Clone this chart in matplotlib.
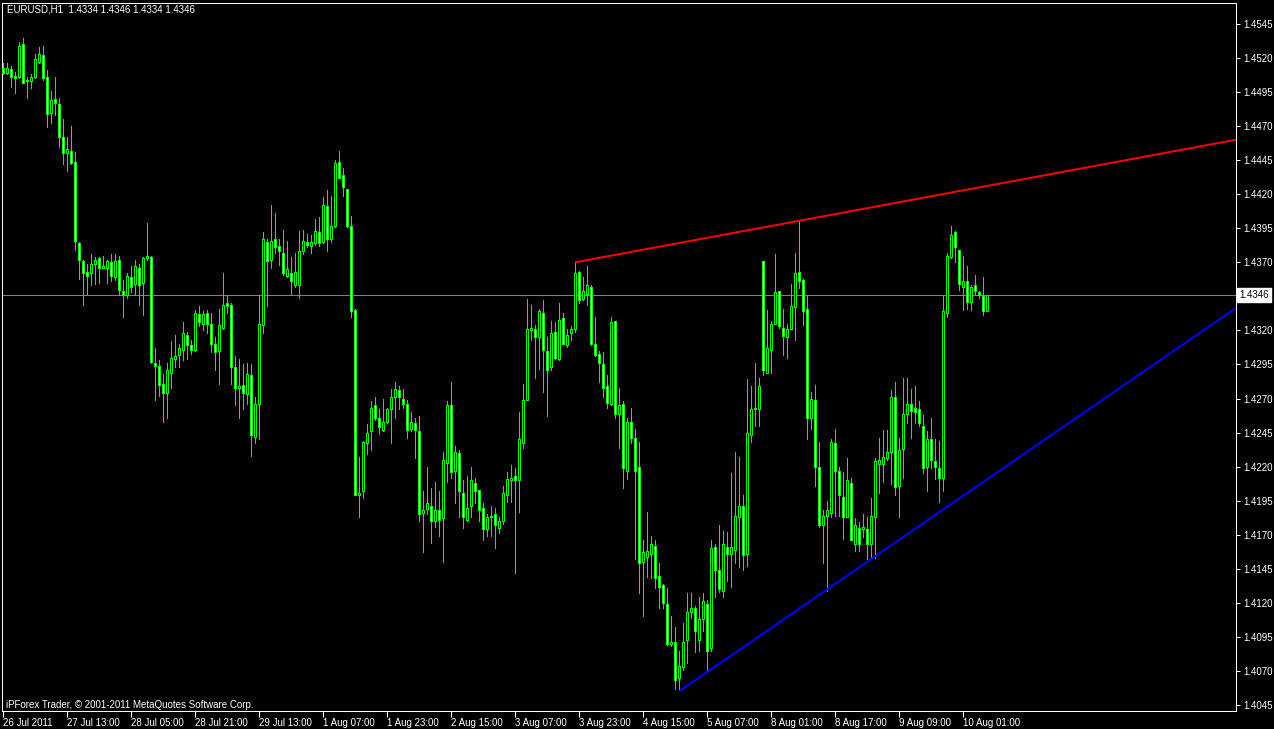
import matplotlib
matplotlib.use("Agg")
import matplotlib.pyplot as plt
from matplotlib.patches import Rectangle

# EURUSD H1 candles (bar 0 = first visible bar)
opens = [
    1.4513, 1.4509, 1.4512, 1.4507, 1.4506, 1.4530, 1.4503, 1.4503, 1.4506, 1.4517,
    1.4522, 1.4506, 1.4480, 1.4490, 1.4486, 1.4462, 1.4450, 1.4452, 1.4444, 1.4384,
    1.4371, 1.4363, 1.4362, 1.4369, 1.4373, 1.4366, 1.4366, 1.4370, 1.4359, 1.4372,
    1.4349, 1.4346, 1.4359, 1.4354, 1.4366, 1.4355, 1.4373, 1.4374, 1.4296, 1.4294,
    1.4281, 1.4274, 1.4289, 1.4299, 1.4302, 1.4306, 1.4317, 1.4309, 1.4306, 1.4332,
    1.4325, 1.4333, 1.4325, 1.4310, 1.4305, 1.4322, 1.4340, 1.4339, 1.4293, 1.4278,
    1.4280, 1.4273, 1.4287, 1.4242, 1.4266, 1.4324, 1.4385, 1.4372, 1.4387, 1.4382,
    1.4377, 1.4360, 1.4362, 1.4353, 1.4353, 1.4378, 1.4385, 1.4382, 1.4384, 1.4392,
    1.4385, 1.4411, 1.4387, 1.4397, 1.4444, 1.4434, 1.4424, 1.4397, 1.4335, 1.4199,
    1.4202, 1.4237, 1.4246, 1.4265, 1.4256, 1.4247, 1.4253, 1.4262, 1.4271, 1.4276,
    1.4270, 1.4266, 1.4248, 1.4252, 1.4246, 1.4186, 1.4189, 1.4191, 1.4180, 1.4188,
    1.4182, 1.4223, 1.4265, 1.4217, 1.4230, 1.4201, 1.4181, 1.4191, 1.4208, 1.4203,
    1.4190, 1.4174, 1.4183, 1.4185, 1.4175, 1.4180, 1.4199, 1.4210, 1.4213, 1.4210,
    1.4237, 1.4269, 1.4320, 1.4321, 1.4315, 1.4333, 1.4305, 1.4293, 1.4319, 1.4299,
    1.4329, 1.4309, 1.4318, 1.4321, 1.4363, 1.4343, 1.4347, 1.4352, 1.4310, 1.4303,
    1.4295, 1.4279, 1.4266, 1.4327, 1.4259, 1.4266, 1.4217, 1.4253, 1.4241, 1.4220,
    1.4150, 1.4154, 1.4156, 1.4162, 1.4140, 1.4133, 1.4119, 1.4090, 1.4091, 1.4065,
    1.4073, 1.4093, 1.4113, 1.4116, 1.4093, 1.4108, 1.4119, 1.4087, 1.4161, 1.4144,
    1.4129, 1.4161, 1.4156, 1.4159, 1.4183, 1.4191, 1.4156, 1.4243, 1.4262, 1.4262,
    1.4371, 1.4289, 1.4306, 1.4325, 1.4349, 1.4322, 1.4315, 1.4321, 1.4337, 1.4363,
    1.4357, 1.4336, 1.4256, 1.4269, 1.4220, 1.4177, 1.4184, 1.4186, 1.4237, 1.4217,
    1.4198, 1.4183, 1.4208, 1.4163, 1.4175, 1.4174, 1.4174, 1.4163, 1.4183, 1.4222,
    1.4222, 1.4226, 1.4231, 1.4271, 1.4206, 1.4233, 1.4259, 1.4266, 1.4263, 1.4262,
    1.4250, 1.4220, 1.4240, 1.4224, 1.4219, 1.4212, 1.4333, 1.4374, 1.4392, 1.4379,
    1.4352, 1.4356, 1.4341, 1.4353, 1.4348, 1.4345, 1.4334,
]
highs = [
    1.4516, 1.4516, 1.4514, 1.4510, 1.4532, 1.4535, 1.4506, 1.4508, 1.4523, 1.4528,
    1.4529, 1.4511, 1.4496, 1.4506, 1.4491, 1.4475, 1.4462, 1.4470, 1.4451, 1.4385,
    1.4372, 1.4369, 1.4376, 1.4374, 1.4374, 1.4375, 1.4372, 1.4376, 1.4376, 1.4375,
    1.4357, 1.4362, 1.4367, 1.4372, 1.4369, 1.4374, 1.4399, 1.4375, 1.4307, 1.4298,
    1.4288, 1.4296, 1.4312, 1.4317, 1.4310, 1.4326, 1.4319, 1.4313, 1.4335, 1.4338,
    1.4334, 1.4335, 1.4333, 1.4315, 1.4336, 1.4362, 1.4345, 1.4340, 1.4301, 1.4299,
    1.4295, 1.4296, 1.4295, 1.4271, 1.4346, 1.4392, 1.4387, 1.4412, 1.4406, 1.4387,
    1.4394, 1.4386, 1.4374, 1.4377, 1.4393, 1.4394, 1.4391, 1.4390, 1.4402, 1.4403,
    1.4418, 1.4423, 1.4419, 1.4445, 1.4452, 1.4439, 1.4424, 1.4404, 1.4336, 1.4227,
    1.4239, 1.4251, 1.4268, 1.4271, 1.4262, 1.4270, 1.4263, 1.4277, 1.4282, 1.4279,
    1.4277, 1.4269, 1.4260, 1.4256, 1.4257, 1.4202, 1.4220, 1.4204, 1.4209, 1.4202,
    1.4231, 1.4268, 1.4282, 1.4235, 1.4232, 1.4210, 1.4213, 1.4220, 1.4212, 1.4203,
    1.4193, 1.4185, 1.4191, 1.4190, 1.4183, 1.4206, 1.4216, 1.4221, 1.4219, 1.4260,
    1.4281, 1.4343, 1.4339, 1.4324, 1.4336, 1.4342, 1.4315, 1.4327, 1.4326, 1.4340,
    1.4333, 1.4321, 1.4323, 1.4370, 1.4364, 1.4359, 1.4367, 1.4353, 1.4330, 1.4305,
    1.4304, 1.4287, 1.4330, 1.4327, 1.4278, 1.4268, 1.4256, 1.4263, 1.4248, 1.4238,
    1.4166, 1.4187, 1.4169, 1.4166, 1.4149, 1.4134, 1.4131, 1.4110, 1.4102, 1.4085,
    1.4105, 1.4127, 1.4127, 1.4118, 1.4124, 1.4127, 1.4122, 1.4166, 1.4163, 1.4177,
    1.4173, 1.4172, 1.4215, 1.4231, 1.4227, 1.4199, 1.4284, 1.4279, 1.4296, 1.4285,
    1.4371, 1.4335, 1.4327, 1.4376, 1.4349, 1.4336, 1.4325, 1.4354, 1.4377, 1.4401,
    1.4358, 1.4345, 1.4275, 1.4280, 1.4238, 1.4188, 1.4195, 1.4240, 1.4248, 1.4220,
    1.4216, 1.4226, 1.4212, 1.4182, 1.4179, 1.4185, 1.4183, 1.4197, 1.4226, 1.4241,
    1.4247, 1.4247, 1.4276, 1.4282, 1.4241, 1.4285, 1.4285, 1.4277, 1.4279, 1.4268,
    1.4258, 1.4246, 1.4256, 1.4240, 1.4239, 1.4345, 1.4377, 1.4397, 1.4393, 1.4379,
    1.4375, 1.4367, 1.4353, 1.4361, 1.4349, 1.4359, 1.4346,
]
lows = [
    1.4508, 1.4508, 1.4499, 1.4494, 1.4505, 1.4502, 1.4491, 1.4498, 1.4505, 1.4516,
    1.4504, 1.4469, 1.4472, 1.4478, 1.4455, 1.4442, 1.4437, 1.4442, 1.4379, 1.4358,
    1.4339, 1.4347, 1.4353, 1.4354, 1.4355, 1.4366, 1.4355, 1.4356, 1.4357, 1.4346,
    1.4330, 1.4344, 1.4348, 1.4346, 1.4339, 1.4331, 1.4372, 1.4296, 1.4269, 1.4272,
    1.4253, 1.4256, 1.4278, 1.4293, 1.4293, 1.4298, 1.4299, 1.4303, 1.4305, 1.4323,
    1.4320, 1.4318, 1.4304, 1.4291, 1.4281, 1.4321, 1.4333, 1.4281, 1.4265, 1.4256,
    1.4262, 1.4266, 1.4228, 1.4237, 1.4240, 1.4318, 1.4338, 1.4366, 1.4377, 1.4368,
    1.4361, 1.4359, 1.4346, 1.4352, 1.4344, 1.4376, 1.4381, 1.4377, 1.4383, 1.4382,
    1.4384, 1.4378, 1.4385, 1.4396, 1.4432, 1.4419, 1.4396, 1.4330, 1.4199, 1.4183,
    1.4197, 1.4229, 1.4232, 1.4254, 1.4244, 1.4246, 1.4252, 1.4237, 1.4256, 1.4262,
    1.4263, 1.4241, 1.4246, 1.4226, 1.4180, 1.4157, 1.4185, 1.4164, 1.4176, 1.4169,
    1.4150, 1.4209, 1.4212, 1.4193, 1.4183, 1.4175, 1.4180, 1.4183, 1.4193, 1.4180,
    1.4166, 1.4169, 1.4169, 1.4160, 1.4171, 1.4178, 1.4194, 1.4194, 1.4142, 1.4187,
    1.4234, 1.4269, 1.4313, 1.4285, 1.4292, 1.4275, 1.4257, 1.4291, 1.4299, 1.4298,
    1.4310, 1.4308, 1.4313, 1.4319, 1.4340, 1.4342, 1.4339, 1.4309, 1.4301, 1.4282,
    1.4271, 1.4263, 1.4265, 1.4256, 1.4234, 1.4204, 1.4211, 1.4237, 1.4152, 1.4127,
    1.4110, 1.4139, 1.4138, 1.4131, 1.4116, 1.4116, 1.4089, 1.4088, 1.4057, 1.4055,
    1.4071, 1.4076, 1.4109, 1.4084, 1.4085, 1.4099, 1.4071, 1.4085, 1.4124, 1.4128,
    1.4124, 1.4136, 1.4132, 1.4149, 1.4146, 1.4144, 1.4147, 1.4238, 1.4250, 1.4250,
    1.4287, 1.4289, 1.4289, 1.4325, 1.4322, 1.4302, 1.4300, 1.4321, 1.4313, 1.4351,
    1.4324, 1.4240, 1.4248, 1.4206, 1.4176, 1.4149, 1.4129, 1.4183, 1.4184, 1.4184,
    1.4167, 1.4183, 1.4166, 1.4158, 1.4158, 1.4168, 1.4152, 1.4153, 1.4153, 1.4201,
    1.4209, 1.4225, 1.4207, 1.4199, 1.4183, 1.4212, 1.4252, 1.4241, 1.4252, 1.4250,
    1.4215, 1.4202, 1.4219, 1.4211, 1.4194, 1.4202, 1.4330, 1.4373, 1.4370, 1.4350,
    1.4335, 1.4336, 1.4335, 1.4347, 1.4344, 1.4331, 1.4334,
]
closes = [
    1.4509, 1.4513, 1.4506, 1.4505, 1.4529, 1.4502, 1.4504, 1.4506, 1.4519, 1.4523,
    1.4505, 1.4479, 1.4489, 1.4487, 1.4462, 1.4450, 1.4453, 1.4443, 1.4386, 1.4372,
    1.4362, 1.4360, 1.4369, 1.4372, 1.4366, 1.4367, 1.4371, 1.4360, 1.4371, 1.4350,
    1.4346, 1.4360, 1.4352, 1.4367, 1.4353, 1.4373, 1.4375, 1.4297, 1.4294, 1.4280,
    1.4274, 1.4291, 1.4300, 1.4301, 1.4307, 1.4318, 1.4309, 1.4306, 1.4333, 1.4326,
    1.4332, 1.4325, 1.4310, 1.4304, 1.4324, 1.4339, 1.4338, 1.4293, 1.4278, 1.4279,
    1.4274, 1.4288, 1.4243, 1.4266, 1.4325, 1.4387, 1.4371, 1.4386, 1.4381, 1.4378,
    1.4362, 1.4365, 1.4356, 1.4363, 1.4378, 1.4386, 1.4383, 1.4385, 1.4393, 1.4384,
    1.4412, 1.4387, 1.4397, 1.4443, 1.4432, 1.4425, 1.4397, 1.4334, 1.4199, 1.4201,
    1.4238, 1.4245, 1.4263, 1.4256, 1.4249, 1.4253, 1.4262, 1.4271, 1.4277, 1.4271,
    1.4266, 1.4247, 1.4253, 1.4247, 1.4185, 1.4188, 1.4193, 1.4180, 1.4188, 1.4181,
    1.4225, 1.4265, 1.4216, 1.4231, 1.4202, 1.4183, 1.4190, 1.4210, 1.4202, 1.4188,
    1.4174, 1.4183, 1.4184, 1.4177, 1.4180, 1.4201, 1.4211, 1.4212, 1.4210, 1.4240,
    1.4269, 1.4321, 1.4322, 1.4315, 1.4334, 1.4306, 1.4291, 1.4318, 1.4300, 1.4328,
    1.4310, 1.4317, 1.4321, 1.4362, 1.4342, 1.4349, 1.4353, 1.4310, 1.4302, 1.4296,
    1.4278, 1.4267, 1.4326, 1.4259, 1.4265, 1.4219, 1.4253, 1.4241, 1.4217, 1.4149,
    1.4157, 1.4158, 1.4163, 1.4138, 1.4132, 1.4120, 1.4090, 1.4091, 1.4063, 1.4074,
    1.4091, 1.4113, 1.4116, 1.4099, 1.4108, 1.4121, 1.4085, 1.4160, 1.4144, 1.4130,
    1.4163, 1.4156, 1.4161, 1.4184, 1.4191, 1.4155, 1.4245, 1.4262, 1.4263, 1.4279,
    1.4291, 1.4307, 1.4325, 1.4348, 1.4323, 1.4316, 1.4321, 1.4338, 1.4362, 1.4356,
    1.4334, 1.4256, 1.4270, 1.4220, 1.4177, 1.4184, 1.4188, 1.4238, 1.4217, 1.4199,
    1.4183, 1.4210, 1.4166, 1.4177, 1.4163, 1.4176, 1.4163, 1.4184, 1.4224, 1.4225,
    1.4227, 1.4231, 1.4271, 1.4205, 1.4232, 1.4259, 1.4266, 1.4261, 1.4260, 1.4252,
    1.4219, 1.4240, 1.4225, 1.4220, 1.4212, 1.4334, 1.4375, 1.4390, 1.4381, 1.4354,
    1.4356, 1.4341, 1.4352, 1.4349, 1.4346, 1.4334, 1.4346,
]

# trend lines (bar index, price) as drawn on the chart
red_x = [143, 308.25]
red_y = [1.4370, 1.4460]
blue_x = [169, 308.25]
blue_y = [1.4055, 1.43365]
last_price = 1.4346

price_ticks = [1.4545, 1.4520, 1.4495, 1.4470, 1.4445, 1.4420, 1.4395, 1.4370,
               1.4320, 1.4295, 1.4270, 1.4245, 1.4220, 1.4195, 1.4170, 1.4145,
               1.4120, 1.4095, 1.4070, 1.4045]
date_ticks = [0, 16, 32, 48, 64, 80, 96, 112, 128, 144, 160, 176, 192, 208, 224, 240]
date_labels = ["26 Jul 2011", "27 Jul 13:00", "28 Jul 05:00", "28 Jul 21:00",
               "29 Jul 13:00", "1 Aug 07:00", "1 Aug 23:00", "2 Aug 15:00",
               "3 Aug 07:00", "3 Aug 23:00", "4 Aug 15:00", "5 Aug 07:00",
               "8 Aug 01:00", "8 Aug 17:00", "9 Aug 09:00", "10 Aug 01:00"]

plt.rcParams["font.family"] = ["Liberation Sans", "DejaVu Sans"]

W, H = 1274, 729
px = 0.72  # one pixel in points at 100 dpi
lime = "#00ff00"

fig = plt.figure(figsize=(W / 100, H / 100), dpi=100, facecolor="black")
ax = fig.add_axes([2 / W, 18 / H, 1234 / W, 708 / H])
ax.set_facecolor("black")

n = len(opens)
bars = list(range(n))

# wicks first, bodies on top
ax.vlines(bars, lows, highs, colors=lime, linewidth=px, zorder=3, antialiased=False)
for i in bars:
    lo = min(opens[i], closes[i])
    hi = max(opens[i], closes[i])
    fill = "black" if closes[i] > opens[i] else "white"
    ax.add_patch(Rectangle((i - 0.25, lo), 0.5, hi - lo, facecolor=fill,
                           edgecolor=lime, linewidth=px, zorder=4, antialiased=False))

ax.axhline(last_price, color="#808080", linewidth=px, zorder=1)
ax.plot(red_x, red_y, color="#ff0000", linewidth=2 * px, zorder=5, solid_capstyle="butt")
ax.plot(blue_x, blue_y, color="#0000ff", linewidth=2 * px, zorder=5, solid_capstyle="butt")

ax.set_xlim(-0.25, 308.25)
ax.set_ylim(1.40406, 1.45604)

ax.yaxis.tick_right()
ax.set_yticks(price_ticks)
ax.set_yticklabels([f"{p:.4f}" for p in price_ticks])
ax.set_xticks(date_ticks)
ax.set_xticklabels(date_labels)
for lbl in ax.get_xticklabels():
    lbl.set_ha("left")
ax.tick_params(axis="y", colors="white", length=3, width=px, pad=2, labelsize=7)
ax.tick_params(axis="x", colors="white", length=4, width=px, pad=1, labelsize=7)
for s in ax.spines.values():
    s.set_color("white")
    s.set_linewidth(px)

# current price tag on the scale
ax.text(1 + 3 / 1234, last_price, f"{last_price:.4f}", transform=ax.get_yaxis_transform(),
        ha="left", va="center", fontsize=7, color="black", clip_on=False,
        bbox=dict(boxstyle="square,pad=0.2", facecolor="white", edgecolor="white"))

fig.text(7 / W, 1 - 10 / H, "EURUSD,H1  1.4334 1.4346 1.4334 1.4346",
         color="white", fontsize=7, ha="left", va="center")
fig.text(6 / W, 1 - 705 / H, "iPForex Trader, \u00a9 2001-2011 MetaQuotes Software Corp.",
         color="white", fontsize=7, ha="left", va="center")

fig.savefig("out.png", dpi=100, facecolor="black")
